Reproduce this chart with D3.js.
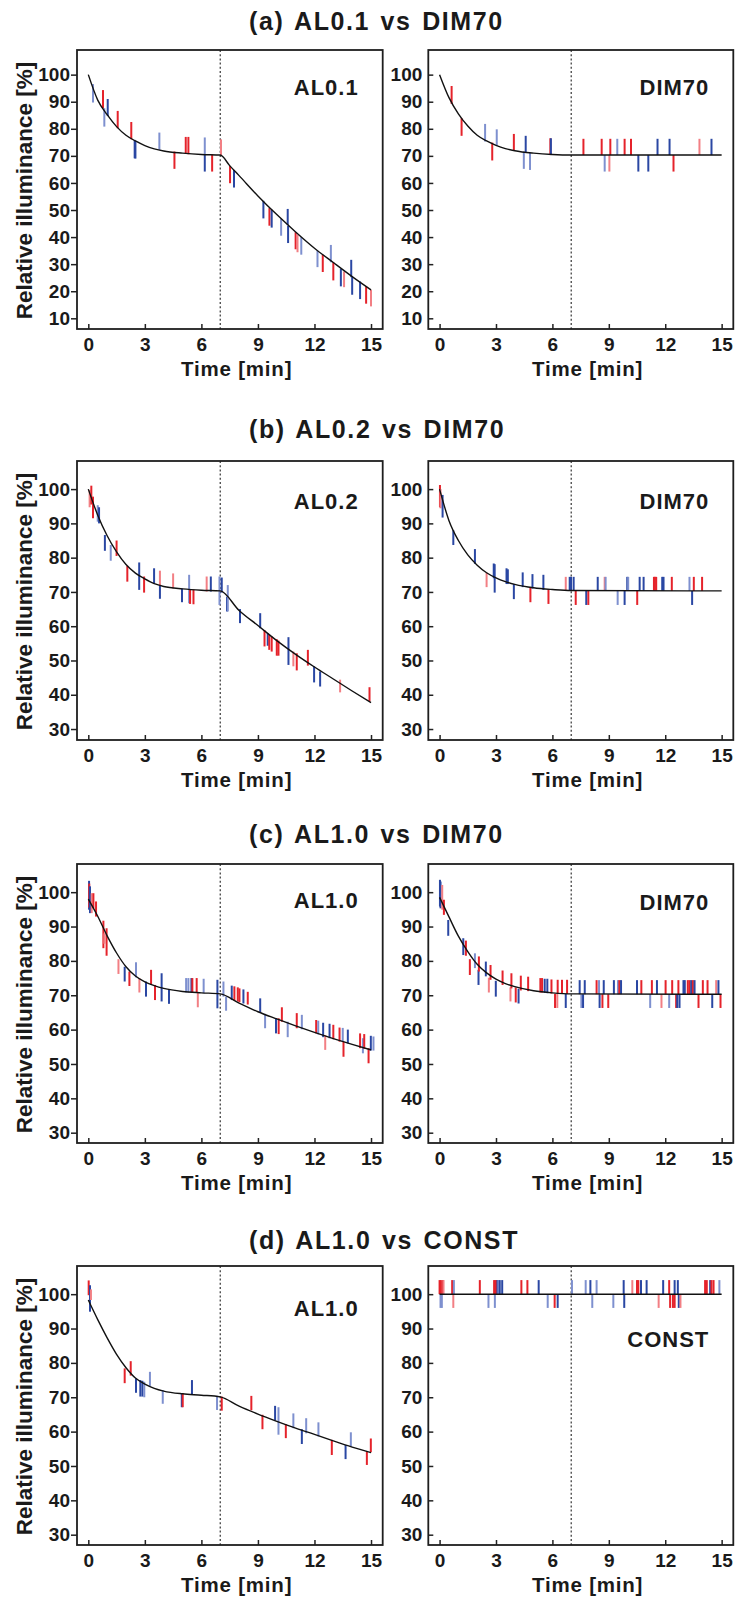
<!DOCTYPE html>
<html>
<head>
<meta charset="utf-8">
<script src="https://cdn.jsdelivr.net/npm/d3@7"></script>
<style>
  body { margin: 0; background: #fff; }
  text { font-family: "Liberation Sans", Arial, Helvetica, sans-serif; font-weight: bold; fill: #1a1a1a; }
</style>
</head>
<body>
<div id="chart"></div>
<script>
// ---------- data ----------
const timeTicks = [0, 3, 6, 9, 12, 15];
const yTicksA = [10, 20, 30, 40, 50, 60, 70, 80, 90, 100];
const yTicksBCD = [30, 40, 50, 60, 70, 80, 90, 100];
const switchTime = 7;

const rowTitles = ["(a) AL0.1 vs DIM70", "(b) AL0.2 vs DIM70", "(c) AL1.0 vs DIM70", "(d) AL1.0 vs CONST"];
const leftNames = ["AL0.1", "AL0.2", "AL1.0", "AL1.0"];
const rightNames = ["DIM70", "DIM70", "DIM70", "CONST"];

// fitted curves [time, illuminance]
const curveA_left = [[0,100],[0.5,90.6],[1,85.2],[1.5,80.8],[2,77.6],[2.5,75.5],[3,73.8],[3.5,72.6],[4,71.8],[5,71.0],[6,70.5],[7,70.3],
  [7.5,66.4],[8,62.7],[9,55.2],[10,48.3],[11,41.9],[12,35.9],[13,30.6],[14,25.4],[15,20.5]];
const curveA_right = [[0,100],[0.5,91.5],[1,85.5],[1.5,81.0],[2,77.6],[2.5,75.5],[3,73.9],[3.5,72.7],[4,71.9],[5,71.0],[6,70.5],[7,70.3],[15,70.3]];
const curveB_left = [[0,100],[0.5,92.4],[1,86.4],[1.5,81.7],[2,78.0],[2.5,75.5],[3,73.8],[3.5,72.4],[4,71.6],[5,70.9],[6,70.5],[7,70.3],
  [8,64.6],[9,60.2],[10,55.8],[11,51.8],[12,48.1],[13,44.6],[14,41.1],[15,37.7]];
const curveB_right = [[0,100],[0.5,90.8],[1,85.0],[1.5,80.8],[2,77.8],[2.5,75.6],[3,74.1],[3.5,73.0],[4,72.2],[5,71.2],[6,70.7],[7,70.4],[15,70.3]];
const curveC_left = [[0,98.0],[0.5,93.0],[1,87.3],[1.5,82.3],[2,78.3],[2.5,75.6],[3,73.9],[3.5,72.8],[4,72.0],[5,71.1],[6,70.7],[7,70.4],
  [8,67.7],[9,65.2],[10,63.1],[11,61.1],[12,59.2],[13,57.4],[14,55.7],[15,54.1]];
const curveC_right = [[0,98.5],[0.5,92.8],[1,87.2],[1.5,82.7],[2,79.0],[2.5,76.5],[3,74.7],[3.5,73.4],[4,72.5],[5,71.3],[6,70.7],[7,70.4],[15,70.3]];
const curveD_left = [[0,98.3],[0.5,92.6],[1,87.3],[1.5,82.5],[2,78.6],[2.5,75.6],[3,73.8],[3.5,72.6],[4,71.8],[5,71.0],[6,70.6],[7,70.1],
  [8,67.4],[9,65.1],[10,63.0],[11,61.0],[12,59.2],[13,57.3],[14,55.5],[15,53.9]];
const curveD_right = [[0,100],[15,100]];

// adjustment marks [time, low, high, colour]  r = red, b = blue, lr / lb = pale
const marksA_left = [
  [0.25,89.7,96.5,"lb"],[0.78,87.6,94.3,"r"],[0.85,80.8,87.6,"lb"],[1.03,84.7,91.0,"b"],[1.56,80.2,86.6,"r"],
  [2.28,76.1,82.5,"r"],[2.46,69.1,75.9,"b"],[2.5,69.0,75.5,"b"],[3.77,72.2,78.6,"lb"],[4.57,65.2,71.6,"r"],
  [5.17,70.7,77.0,"r"],[5.31,70.6,77.0,"r"],[6.18,70.3,76.8,"lb"],[6.18,64.2,70.3,"b"],[6.57,64.2,70.5,"r"],
  [7.04,70.3,76.1,"lr"],[7.52,59.9,66.3,"r"],[7.73,58.3,64.8,"b"],[9.29,46.9,53.4,"b"],[9.61,44.2,50.7,"r"],
  [9.73,43.5,50.1,"b"],[10.23,40.5,46.7,"lb"],[10.58,44.4,50.4,"b"],[10.6,37.8,44.2,"b"],[11.0,35.5,41.8,"r"],
  [11.1,34.4,40.8,"lr"],[11.3,33.5,40.0,"lb"],[12.16,28.9,35.0,"lb"],[12.44,27.1,33.5,"r"],[12.87,30.7,37.1,"lb"],
  [13.0,24.0,30.7,"r"],[13.4,21.8,28.2,"b"],[13.57,21.5,27.3,"lr"],[13.95,25.2,31.6,"b"],[14.0,18.7,25.4,"b"],
  [14.42,17.1,23.6,"b"],[14.74,15.4,21.8,"r"],[15.0,14.4,20.5,"lr"]
];
const marksA_right = [
  [0.64,89.2,95.8,"r"],[1.17,77.4,83.9,"r"],[2.42,75.3,81.8,"lb"],[2.8,68.3,74.9,"r"],[3.04,73.7,79.8,"lb"],
  [3.95,72.0,78.1,"r"],[4.48,65.2,71.6,"lb"],[4.58,71.2,77.4,"b"],[4.81,64.8,71.2,"lb"],[5.89,70.3,76.5,"r"],
  [5.92,70.3,76.5,"b"],[7.65,70.3,76.3,"r"],[8.62,70.3,76.3,"r"],[8.78,64.2,70.3,"lb"],[9.03,64.2,70.3,"lr"],
  [9.08,70.3,76.3,"r"],[9.45,70.3,76.3,"lb"],[9.84,70.3,76.3,"r"],[10.18,70.3,76.3,"r"],[10.57,64.2,70.3,"b"],
  [11.1,64.2,70.3,"b"],[11.59,70.3,76.3,"b"],[12.23,70.3,76.3,"b"],[12.44,64.2,70.3,"r"],[13.82,70.3,76.3,"lr"],
  [14.46,70.3,76.3,"b"]
];
const marksB_left = [
  [0.07,94.7,99.7,"lr"],[0.16,95.5,101.0,"r"],[0.25,91.5,97.8,"r"],[0.5,90.5,95.3,"lb"],[0.57,90.0,94.7,"b"],
  [0.88,82.0,86.6,"b"],[1.19,79.1,83.7,"lb"],[1.5,80.5,85.0,"r"],[2.07,73.0,77.6,"r"],[2.7,70.6,78.6,"b"],
  [2.96,69.8,74.5,"r"],[3.49,72.5,76.9,"b"],[3.8,71.8,76.2,"lr"],[3.8,68.0,71.8,"b"],[4.5,71.0,75.4,"lr"],
  [4.97,67.0,71.0,"b"],[5.35,66.7,75.0,"lb"],[5.4,66.5,70.8,"r"],[5.58,66.4,70.7,"r"],[6.28,70.1,74.5,"lr"],
  [6.5,70.1,74.5,"b"],[6.96,66.2,74.5,"lb"],[7.08,69.8,74.2,"b"],[7.36,64.3,68.6,"b"],[7.4,64.3,72.0,"lb"],
  [8.05,60.9,65.0,"b"],[9.12,59.4,63.8,"b"],[9.35,54.1,58.9,"r"],[9.52,54.3,58.0,"b"],[9.6,53.1,57.5,"r"],
  [9.73,52.6,57.0,"r"],[10.0,51.4,56.2,"r"],[10.09,51.4,55.8,"r"],[10.62,48.7,56.8,"b"],[10.88,48.3,52.6,"lr"],
  [11.06,47.1,52.1,"r"],[11.65,48.5,53.1,"r"],[11.98,43.6,48.3,"b"],[12.3,42.4,46.8,"b"],[13.36,40.7,44.4,"lr"],
  [14.92,38.1,42.2,"r"]
];
const marksB_right = [
  [0.02,94.7,101.2,"r"],[0.05,94.4,100.0,"lr"],[0.16,91.7,98.3,"b"],[0.73,83.7,88.0,"b"],[1.88,78.2,82.5,"b"],
  [2.5,71.4,75.6,"lr"],[2.88,74.0,78.3,"b"],[2.93,69.8,78.1,"b"],[3.56,72.3,76.9,"b"],[3.63,72.3,76.6,"b"],
  [3.95,67.9,72.3,"b"],[4.42,71.4,75.7,"b"],[4.83,67.0,71.4,"r"],[4.94,71.0,75.2,"b"],[5.52,70.6,75.0,"b"],
  [5.79,66.5,70.8,"r"],[6.71,70.3,74.4,"lr"],[6.92,70.3,74.4,"b"],[6.99,70.3,74.4,"b"],[7.13,70.3,74.4,"b"],
  [7.24,66.2,70.3,"r"],[7.8,66.2,70.3,"b"],[7.91,66.2,70.3,"r"],[8.41,70.3,74.4,"b"],[8.78,70.3,74.4,"lr"],
  [8.83,70.3,74.4,"lb"],[9.47,66.2,70.3,"lb"],[9.84,66.2,70.3,"b"],[9.98,70.3,74.4,"b"],[10.03,70.3,74.4,"lb"],
  [10.51,66.2,70.3,"r"],[10.64,70.3,74.4,"b"],[10.85,70.3,74.4,"b"],[11.4,70.3,74.4,"r"],[11.45,70.3,74.4,"r"],
  [11.52,70.3,74.4,"r"],[11.84,70.3,74.4,"b"],[11.91,70.3,74.4,"b"],[12.35,70.3,74.4,"r"],[13.29,70.3,74.4,"lb"],
  [13.43,66.2,70.3,"b"],[13.52,70.3,74.4,"r"],[13.96,70.3,74.4,"r"]
];
const marksC_left = [
  [0.04,94.9,103.3,"b"],[0.05,95.5,102.5,"r"],[0.09,93.9,101.7,"b"],[0.18,93.9,99.7,"lr"],[0.27,95.3,99.7,"r"],
  [0.41,92.9,97.3,"r"],[0.8,83.7,91.7,"r"],[0.85,85.0,88.0,"lr"],[0.97,81.5,89.5,"r"],[1.6,76.2,80.5,"lr"],
  [1.93,74.0,78.3,"b"],[2.18,72.7,76.9,"r"],[2.53,75.2,79.6,"lb"],[2.71,70.8,75.0,"lr"],[3.06,69.6,74.0,"b"],
  [3.33,73.0,77.4,"r"],[3.54,68.6,73.0,"r"],[3.89,68.2,76.4,"b"],[4.28,67.5,71.7,"b"],[5.19,70.8,75.0,"lb"],
  [5.31,70.8,75.0,"lb"],[5.47,70.8,75.0,"b"],[5.52,70.8,75.0,"r"],[5.75,70.8,75.0,"r"],[5.81,66.5,70.8,"lr"],
  [6.12,70.6,74.8,"lb"],[6.85,66.2,74.5,"b"],[7.17,69.6,74.0,"lb"],[7.31,65.5,69.6,"lb"],[7.61,68.6,72.8,"b"],
  [7.75,68.4,72.6,"r"],[7.93,68.2,72.3,"r"],[8.02,68.0,72.0,"r"],[8.23,67.6,71.7,"b"],[8.46,67.3,71.0,"r"],
  [9.12,65.0,69.1,"b"],[9.38,60.4,64.6,"lb"],[9.96,58.9,63.3,"b"],[10.1,58.7,63.3,"r"],[10.27,62.3,66.5,"r"],
  [10.58,57.8,62.3,"lb"],[11.06,60.4,64.8,"r"],[11.33,60.1,64.3,"lb"],[12.09,58.9,62.8,"r"],[12.2,58.6,62.6,"lb"],
  [12.46,57.8,62.0,"b"],[12.57,54.1,58.4,"lr"],[12.8,57.5,61.7,"b"],[13.0,57.2,61.4,"r"],[13.33,56.5,60.6,"r"],
  [13.5,56.4,60.5,"lb"],[13.54,52.1,56.5,"r"],[13.77,56.0,60.0,"b"],[14.42,54.6,58.9,"r"],[14.57,53.1,57.5,"lb"],
  [14.64,54.4,58.7,"r"],[14.87,50.2,54.6,"r"],[14.99,53.9,58.2,"b"],[15.13,53.9,58.0,"lb"]
];
const marksC_right = [
  [0.02,95.8,103.6,"b"],[0.05,95.3,103.1,"b"],[0.14,94.9,102.1,"lr"],[0.23,93.4,97.8,"r"],[0.46,87.3,91.9,"b"],
  [1.26,81.7,86.6,"b"],[1.4,81.5,85.9,"r"],[1.61,75.9,80.5,"r"],[1.88,77.9,82.2,"lb"],[2.07,73.0,77.4,"b"],
  [2.09,76.9,81.3,"r"],[2.46,75.5,79.8,"b"],[2.62,70.8,75.1,"lr"],[2.71,74.5,78.8,"r"],[2.99,69.6,74.2,"b"],
  [3.35,73.0,77.2,"r"],[3.77,68.2,72.3,"lr"],[3.82,72.0,76.4,"r"],[4.05,67.9,72.3,"r"],[4.2,67.6,71.9,"b"],
  [4.32,71.4,75.7,"r"],[4.71,71.2,75.4,"r"],[5.36,70.8,75.0,"r"],[5.45,70.8,75.0,"r"],[5.59,70.7,74.8,"b"],
  [5.73,70.6,74.8,"b"],[5.95,70.5,74.6,"r"],[6.14,66.3,70.4,"r"],[6.26,66.3,70.4,"lr"],[6.28,70.4,74.5,"r"],
  [6.51,70.4,74.5,"r"],[6.71,66.3,70.4,"b"],[6.78,70.4,74.5,"r"],[7.45,70.3,74.4,"b"],[7.54,66.3,70.3,"lb"],
  [7.63,66.3,70.3,"b"],[7.72,70.3,74.4,"b"],[8.35,70.3,74.4,"r"],[8.48,70.3,74.4,"lb"],[8.51,66.3,70.3,"b"],
  [8.66,66.3,70.3,"r"],[8.73,70.3,74.4,"b"],[8.97,66.3,70.3,"r"],[9.27,70.3,74.4,"b"],[9.49,70.3,74.4,"lb"],
  [9.56,70.3,74.4,"r"],[9.65,70.3,74.4,"b"],[10.5,70.3,74.4,"b"],[10.73,70.3,74.4,"r"],[11.2,66.3,70.3,"lb"],
  [11.29,70.3,74.4,"r"],[11.56,70.3,74.4,"b"],[11.8,66.3,70.3,"lr"],[12.02,70.3,74.4,"r"],[12.21,66.3,70.3,"lb"],
  [12.37,70.3,74.4,"r"],[12.58,66.3,70.3,"r"],[12.64,66.3,70.3,"b"],[12.7,70.3,74.4,"r"],[12.76,66.3,70.3,"b"],
  [12.97,70.3,74.4,"b"],[13.04,70.3,74.4,"b"],[13.2,70.3,74.4,"r"],[13.29,70.3,74.4,"r"],[13.38,70.3,74.4,"b"],
  [13.47,70.3,74.4,"r"],[13.56,70.3,74.4,"b"],[13.77,66.3,70.3,"r"],[14.0,70.3,74.4,"r"],[14.25,70.3,74.4,"r"],
  [14.5,66.3,70.3,"b"],[14.71,70.3,74.4,"lr"],[14.83,70.3,74.4,"b"],[14.94,66.3,70.3,"r"]
];
const marksD_left = [
  [0.02,99.7,104.0,"r"],[0.09,94.9,102.6,"b"],[0.14,98.3,101.4,"lr"],[1.93,74.1,78.4,"r"],[2.25,76.3,80.5,"r"],
  [2.53,71.3,75.5,"b"],[2.76,70.2,75.0,"b"],[2.87,70.2,74.8,"b"],[2.97,70.0,74.5,"lb"],[3.27,73.3,77.4,"lb"],
  [3.95,68.1,72.1,"lb"],[4.96,67.1,71.2,"b"],[5.01,67.1,71.2,"r"],[5.5,70.9,75.0,"b"],[6.83,66.3,70.4,"lb"],
  [7.08,66.1,70.2,"r"],[8.65,66.2,70.4,"r"],[9.24,60.7,64.9,"r"],[9.91,63.2,67.5,"b"],[10.09,59.1,67.1,"lb"],
  [10.48,58.1,62.2,"r"],[10.88,61.0,65.3,"lb"],[11.33,56.4,60.7,"b"],[11.56,59.5,63.9,"lb"],[12.21,58.6,62.7,"lb"],
  [12.92,53.2,57.6,"r"],[13.65,52.0,56.1,"b"],[13.93,55.7,59.8,"lb"],[14.78,50.3,54.2,"r"],[14.99,54.0,58.0,"r"]
];
const marksD_right = [
  [0.0,100,104.1,"r"],[0.05,96,100,"lb"],[0.07,100,104.1,"r"],[0.12,96,100,"lb"],[0.18,100,104.1,"r"],
  [0.21,100,104.1,"lr"],[0.67,100,104.1,"r"],[0.73,96,100,"lr"],[0.76,100,104.1,"lb"],[2.14,100,104.1,"r"],
  [2.6,96,100,"lb"],[2.9,100,104.1,"r"],[2.94,96,100,"lb"],[2.97,100,104.1,"r"],[3.03,100,104.1,"r"],
  [3.08,100,104.1,"b"],[3.13,100,104.1,"lb"],[3.2,100,104.1,"b"],[3.33,100,104.1,"b"],[4.35,100,104.1,"r"],
  [4.67,100,104.1,"r"],[5.27,100,104.1,"b"],[5.75,96,100,"lb"],[6.12,96,100,"r"],[6.28,96,100,"b"],
  [7.04,100,104.1,"lb"],[7.77,100,104.1,"lb"],[8.02,100,104.1,"b"],[8.12,96,100,"lb"],[8.35,100,104.1,"lb"],
  [9.24,96,100,"lb"],[9.79,100,104.1,"b"],[9.82,96,100,"b"],[10.25,100,104.1,"lr"],[10.5,100,104.1,"r"],
  [10.57,100,104.1,"r"],[10.71,100,104.1,"b"],[11.01,100,104.1,"b"],[11.65,96,100,"lr"],[11.89,100,104.1,"b"],
  [12.21,100,104.1,"r"],[12.26,96,100,"r"],[12.41,96,100,"r"],[12.5,96,100,"r"],[12.5,100,104.1,"b"],
  [12.67,100,104.1,"b"],[12.72,96,100,"b"],[12.81,96,100,"lr"],[14.12,100,104.1,"r"],[14.21,100,104.1,"r"],
  [14.39,100,104.1,"b"],[14.46,100,104.1,"r"],[14.57,100,104.1,"r"],[14.88,100,104.1,"lb"]
];

// ---------- layout ----------
const W = 735, H = 1597;
const markColor = { r: "#e5232b", b: "#2a47a3", lr: "#f27f84", lb: "#7e90cf" };
const frameH = 279;
const cols = [{ x0: 77, x1: 382.7, outsideTicks: true }, { x0: 428.3, x1: 733.3, outsideTicks: false }];
const rows = [
  { top: 50,   yDom: [6.05, 109.1], ticks: yTicksA,   titleY: 30,   curves: [curveA_left, curveA_right], marks: [marksA_left, marksA_right], labelDy: [45, 45] },
  { top: 461,  yDom: [26.8, 108.2], ticks: yTicksBCD, titleY: 438,  curves: [curveB_left, curveB_right], marks: [marksB_left, marksB_right], labelDy: [48, 48] },
  { top: 864,  yDom: [27.0, 108.2], ticks: yTicksBCD, titleY: 843,  curves: [curveC_left, curveC_right], marks: [marksC_left, marksC_right], labelDy: [44, 46] },
  { top: 1266, yDom: [27.0, 108.2], ticks: yTicksBCD, titleY: 1249, curves: [curveD_left, curveD_right], marks: [marksD_left, marksD_right], labelDy: [50, 81] }
];

const svg = d3.select("#chart").append("svg")
  .attr("width", W).attr("height", H);

const line = d3.line().curve(d3.curveMonotoneX);

rows.forEach(function (row, ri) {
  // row title
  svg.append("text")
    .attr("x", 249).attr("y", row.titleY)
    .style("font-size", "25px")
    .style("letter-spacing", "1.6px")
    .style("word-spacing", "2px")
    .text(rowTitles[ri]);

  cols.forEach(function (col, ci) {
    var x = d3.scaleLinear().domain([-0.6, 15.62]).range([col.x0, col.x1]);
    var y = d3.scaleLinear().domain(row.yDom).range([row.top + frameH, row.top]);
    var g = svg.append("g");
    var bottom = row.top + frameH;

    // y axis
    var yAxis = d3.axisLeft(y).tickValues(row.ticks)
      .tickSize(col.outsideTicks ? 6 : -5)
      .tickPadding(col.outsideTicks ? 1 : 6);
    var ya = g.append("g").attr("transform", "translate(" + col.x0 + ",0)").call(yAxis);
    ya.select(".domain").remove();
    ya.selectAll("line").attr("stroke", "#222").attr("stroke-width", 1.5);
    ya.selectAll("text").style("font-size", "19px").attr("fill", "#1a1a1a");

    // x axis (ticks point inward)
    var xAxis = d3.axisBottom(x).tickValues(timeTicks).tickSize(-5).tickPadding(8.5);
    var xa = g.append("g").attr("transform", "translate(0," + bottom + ")").call(xAxis);
    xa.select(".domain").remove();
    xa.selectAll("line").attr("stroke", "#222").attr("stroke-width", 1.5);
    xa.selectAll("text").style("font-size", "19px").attr("fill", "#1a1a1a");

    // switch time
    g.append("line")
      .attr("x1", x(switchTime)).attr("x2", x(switchTime))
      .attr("y1", row.top).attr("y2", bottom)
      .attr("stroke", "#333").attr("stroke-width", 1.2)
      .attr("stroke-dasharray", "2,2.2");

    // adjustment marks
    g.append("g").selectAll("line")
      .data(row.marks[ci])
      .enter().append("line")
      .attr("x1", function (d) { return x(d[0]); })
      .attr("x2", function (d) { return x(d[0]); })
      .attr("y1", function (d) { return y(d[1]); })
      .attr("y2", function (d) { return y(d[2]); })
      .attr("stroke", function (d) { return markColor[d[3]]; })
      .attr("stroke-width", 2);

    // fitted curve
    g.append("path")
      .attr("d", line(row.curves[ci].map(function (p) { return [x(p[0]), y(p[1])]; })))
      .attr("fill", "none").attr("stroke", "#111").attr("stroke-width", 1.4);

    // frame
    g.append("rect")
      .attr("x", col.x0).attr("y", row.top)
      .attr("width", col.x1 - col.x0).attr("height", frameH)
      .attr("fill", "none").attr("stroke", "#1e1e1e").attr("stroke-width", 1.8);

    // panel name
    g.append("text")
      .attr("x", col.x1 - 24).attr("y", row.top + row.labelDy[ci])
      .attr("text-anchor", "end")
      .style("font-size", "22px").style("letter-spacing", "1px")
      .text(ci === 0 ? leftNames[ri] : rightNames[ri]);

    // x axis label
    g.append("text")
      .attr("x", (x(0) + x(15)) / 2 + 7).attr("y", bottom + 47)
      .attr("text-anchor", "middle")
      .style("font-size", "20.5px").style("letter-spacing", "0.8px")
      .text("Time [min]");

    // y axis label, left column only
    if (ci === 0) {
      g.append("text")
        .attr("transform", "translate(32," + (row.top + frameH / 2 + 1) + ") rotate(-90)")
        .attr("text-anchor", "middle")
        .style("font-size", "22.5px")
        .text("Relative illuminance [%]");
    }
  });
});
</script>
</body>
</html>
